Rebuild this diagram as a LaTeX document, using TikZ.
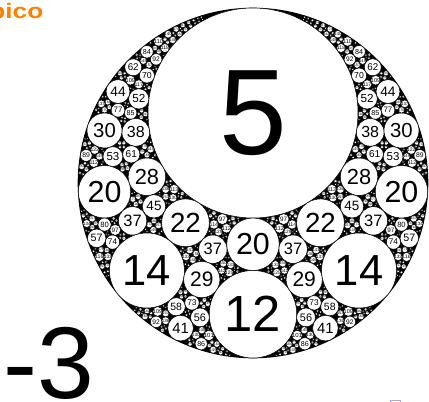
\documentclass[tikz,border=0pt]{standalone}
\usepackage{fontspec}
\setmainfont{Liberation Sans}
\newfontfamily\titlefont[FakeStretch=1.25]{Liberation Sans}
\definecolor{picoorange}{RGB}{255,128,0}
\definecolor{boxlav}{RGB}{170,170,230}
\tikzset{
  disc/.style={draw=black, fill=white, line width=0.5pt},
  num/.style={inner sep=0pt, text=black}
}
\newcount\numcirc
\def\kmax{450}
\def\kof(#1,#2,#3){#1}
% circle from its image in the strip: centre (u,v), radius rho
\newcommand{\bendof}[3]{\fpeval{(((#1)^2+(#2)^2-(#3)^2)/(#3), (#1)/(#3), -(#2)/(#3))}}
\def\putcirc(#1,#2,#3){%
  \ifdim#1pt<\kmax pt
    \edef\circx{\fpeval{round(253+525*(#2)/(#1),3)}}%
    \edef\circy{\fpeval{round(8-525*(#3)/(#1),3)}}%
    \edef\circr{\fpeval{round(525/(#1),3)}}%
    \draw[disc] (\circx,\circy) circle (\circr pt);
    \edef\circf{\fpeval{round(609/(#1),1)}}%
    \global\advance\numcirc by 1
    \node[num, font=\fontsize{\circf}{\circf}\selectfont] (c\the\numcirc) at (\circx,\circy) {\fpeval{round(#1)}};
  \fi}
\def\callhole#1#2#3#4#5{\edef\next{\noexpand\dohole{#1}{#2}{#3}{#4}{#5}}\next}
% four new circles in a four-sided hole, then the five smaller holes
\def\dohole#1#2#3#4#5{%
  \begingroup
  \edef\da{\fpeval{2*#1+#3+2*sqrt(2)*#5}}%
  \edef\db{\fpeval{2*#2+#4+2*sqrt(2)*#5}}%
  \edef\dc{\fpeval{2*#3+#1+2*sqrt(2)*#5}}%
  \edef\dd{\fpeval{2*#4+#2+2*sqrt(2)*#5}}%
  \edef\kmin{\fpeval{min(\expandafter\kof\da,\expandafter\kof\db,\expandafter\kof\dc,\expandafter\kof\dd)}}%
  \ifdim\kmin pt<\kmax pt
    \expandafter\putcirc\da
    \expandafter\putcirc\db
    \expandafter\putcirc\dc
    \expandafter\putcirc\dd
    \callhole{\da}{\db}{\dc}{\dd}{\fpeval{sqrt(2)*(#1+#3)+3*#5}}%
    \callhole{#1}{#2}{\db}{\da}{\fpeval{sqrt(.5)*(#1+#2)+#5}}%
    \callhole{#2}{#3}{\dc}{\db}{\fpeval{sqrt(.5)*(#2+#3)+#5}}%
    \callhole{#3}{#4}{\dd}{\dc}{\fpeval{sqrt(.5)*(#3+#4)+#5}}%
    \callhole{#4}{#1}{\da}{\dd}{\fpeval{sqrt(.5)*(#4+#1)+#5}}%
  \fi
  \endgroup}
\begin{document}
\begin{tikzpicture}[x=1pt, y=-1pt]
  \useasboundingbox (0,0) rectangle (429,402);

  % titles and the small box
  \node[anchor=base east, inner sep=0pt, text=picoorange, font=\titlefont\fontsize{21}{21}\selectfont\bfseries] (title) at (43.5,18) {pico};
  \draw[boxlav, line width=0.6pt] (390.5,400.5) rectangle (400,412);
  \node[anchor=base west, inner sep=0pt, font=\fontsize{102}{102}\selectfont] (outerlab) at (3.5,398) {-3};

  % outer circle and the big one
  \fill[black] (253,183) circle (175.3pt);
  \edef\linea{(5, 0, -1)}
  \edef\lineb{(-3, 0, 1)}
  \expandafter\putcirc\linea

  % cells of the strip, two rows of circles with two more in each gap
  \foreach \n in {-16,...,15} {
    \edef\ul{\fpeval{\n*sqrt(.5)}}
    \edef\ur{\fpeval{(\n+1)*sqrt(.5)}}
    \edef\um{\fpeval{(\n+.5)*sqrt(.5)}}
    \edef\aleft{\bendof{\ul}{2.25}{.25}}
    \edef\aright{\bendof{\ur}{2.25}{.25}}
    \edef\bleft{\bendof{\ul}{1.75}{.25}}
    \edef\bright{\bendof{\ur}{1.75}{.25}}
    \edef\egap{\bendof{\um}{2.125}{.125}}
    \edef\fgap{\bendof{\um}{1.875}{.125}}
    \expandafter\putcirc\aleft
    \expandafter\putcirc\bleft
    \expandafter\putcirc\egap
    \expandafter\putcirc\fgap
    \callhole{\lineb}{\bleft}{\fgap}{\bright}{\bendof{\um}{1.5}{sqrt(.125)}}
    \callhole{\linea}{\aleft}{\egap}{\aright}{\bendof{\um}{2.5}{sqrt(.125)}}
    \callhole{\bleft}{\fgap}{\egap}{\aleft}{\bendof{\ul+sqrt(.03125)}{2}{sqrt(.03125)}}
    \callhole{\bright}{\fgap}{\egap}{\aright}{\bendof{\ur-sqrt(.03125)}{2}{sqrt(.03125)}}
  }
\end{tikzpicture}
\end{document}
